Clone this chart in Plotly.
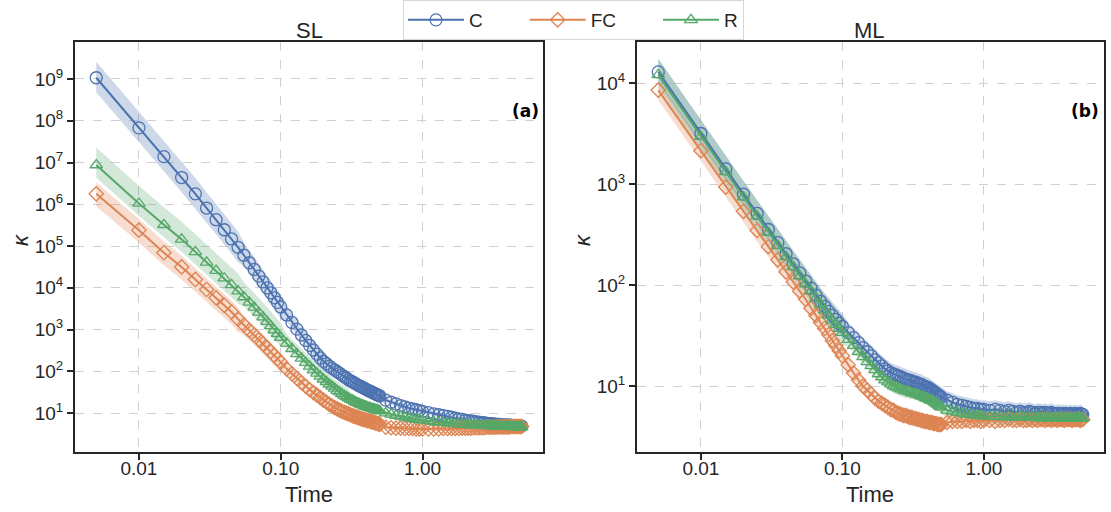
import plotly.graph_objects as go

# ---------------- data (log10 of kappa) ----------------
TIME_A = [0.005, 0.010, 0.015, 0.020, 0.025, 0.030, 0.035, 0.040, 0.045, 0.050,
          0.055, 0.060, 0.065, 0.070, 0.075, 0.080, 0.085, 0.090, 0.095, 0.100]
TIME_B = [0.11, 0.12, 0.13, 0.14, 0.15, 0.16, 0.17, 0.18, 0.19, 0.20,
          0.21, 0.22, 0.23, 0.24, 0.25, 0.26, 0.27, 0.28, 0.29, 0.30,
          0.31, 0.32, 0.33, 0.34, 0.35, 0.36, 0.37, 0.38, 0.39, 0.40,
          0.41, 0.42, 0.43, 0.44, 0.45, 0.46, 0.47, 0.48, 0.49, 0.50]
TIME_C = [0.55, 0.60, 0.65, 0.70, 0.75, 0.80, 0.85, 0.90, 0.95, 1.00,
          1.1, 1.2, 1.3, 1.4, 1.5, 1.6, 1.7, 1.8, 1.9, 2.0,
          2.1, 2.2, 2.3, 2.4, 2.5, 2.6, 2.7, 2.8, 2.9, 3.0,
          3.1, 3.2, 3.3, 3.4, 3.5, 3.6, 3.7, 3.8, 3.9, 4.0,
          4.1, 4.2, 4.3, 4.4, 4.5, 4.6, 4.7, 4.8, 4.9, 5.0]
TIME = TIME_A + TIME_B + TIME_C

# SL panel
SL_C = [9.03, 7.83, 7.14, 6.64, 6.25, 5.91, 5.63, 5.39, 5.17, 4.97,
        4.78, 4.60, 4.44, 4.28, 4.14, 4.00, 3.88, 3.76, 3.65, 3.54,
        3.35, 3.17, 3.01, 2.87, 2.74, 2.62, 2.51, 2.41, 2.32, 2.24,
        2.18, 2.12, 2.07, 2.03, 1.99, 1.95, 1.91, 1.87, 1.84, 1.80,
        1.77, 1.75, 1.72, 1.70, 1.67, 1.65, 1.63, 1.61, 1.59, 1.57,
        1.55, 1.53, 1.52, 1.50, 1.48, 1.47, 1.45, 1.44, 1.42, 1.41,
        1.31, 1.26, 1.22, 1.18, 1.15, 1.12, 1.10, 1.08, 1.06, 1.04,
        1.01, 0.98, 0.96, 0.94, 0.92, 0.90, 0.88, 0.86, 0.85, 0.83,
        0.82, 0.81, 0.80, 0.79, 0.78, 0.77, 0.77, 0.76, 0.75, 0.75,
        0.74, 0.74, 0.73, 0.73, 0.73, 0.72, 0.72, 0.72, 0.71, 0.71,
        0.71, 0.71, 0.70, 0.70, 0.70, 0.70, 0.70, 0.69, 0.69, 0.69]
SL_FC = [6.25, 5.38, 4.84, 4.50, 4.20, 3.96, 3.76, 3.58, 3.42, 3.25,
         3.11, 2.98, 2.87, 2.76, 2.66, 2.56, 2.47, 2.38, 2.30, 2.22,
         2.06, 1.94, 1.83, 1.73, 1.64, 1.56, 1.49, 1.43, 1.37, 1.31,
         1.26, 1.21, 1.17, 1.13, 1.10, 1.07, 1.04, 1.02, 1.00, 0.98,
         0.96, 0.94, 0.92, 0.91, 0.89, 0.88, 0.86, 0.85, 0.84, 0.83,
         0.82, 0.81, 0.80, 0.79, 0.78, 0.77, 0.76, 0.75, 0.74, 0.73,
         0.66, 0.65, 0.64, 0.64, 0.63, 0.63, 0.63, 0.62, 0.62, 0.62,
         0.62, 0.62, 0.62, 0.63, 0.63, 0.63, 0.63, 0.63, 0.64, 0.64,
         0.64, 0.64, 0.65, 0.65, 0.65, 0.65, 0.65, 0.66, 0.66, 0.66,
         0.66, 0.66, 0.66, 0.67, 0.67, 0.67, 0.67, 0.67, 0.67, 0.67,
         0.67, 0.68, 0.68, 0.68, 0.68, 0.68, 0.68, 0.68, 0.68, 0.68]
SL_R = [6.94, 6.02, 5.51, 5.16, 4.86, 4.61, 4.41, 4.23, 4.07, 3.92,
        3.78, 3.65, 3.53, 3.41, 3.30, 3.19, 3.09, 2.99, 2.90, 2.81,
        2.67, 2.54, 2.42, 2.31, 2.21, 2.12, 2.03, 1.95, 1.88, 1.81,
        1.75, 1.69, 1.64, 1.59, 1.54, 1.50, 1.46, 1.42, 1.39, 1.36,
        1.33, 1.31, 1.28, 1.26, 1.24, 1.22, 1.20, 1.19, 1.17, 1.16,
        1.14, 1.13, 1.12, 1.11, 1.10, 1.09, 1.08, 1.07, 1.06, 1.05,
        1.00, 0.97, 0.94, 0.92, 0.90, 0.88, 0.87, 0.85, 0.84, 0.83,
        0.81, 0.79, 0.78, 0.77, 0.76, 0.75, 0.74, 0.74, 0.73, 0.73,
        0.72, 0.72, 0.71, 0.71, 0.71, 0.70, 0.70, 0.70, 0.70, 0.69,
        0.69, 0.69, 0.69, 0.69, 0.68, 0.68, 0.68, 0.68, 0.68, 0.68,
        0.68, 0.68, 0.67, 0.67, 0.67, 0.67, 0.67, 0.67, 0.67, 0.67]

# ML panel
ML_C = [4.11, 3.50, 3.15, 2.90, 2.71, 2.55, 2.42, 2.31, 2.21, 2.12,
        2.04, 1.97, 1.90, 1.84, 1.79, 1.74, 1.70, 1.66, 1.62, 1.59,
        1.53, 1.48, 1.43, 1.38, 1.34, 1.30, 1.26, 1.23, 1.20, 1.17,
        1.15, 1.13, 1.12, 1.11, 1.10, 1.09, 1.08, 1.07, 1.06, 1.06,
        1.05, 1.04, 1.04, 1.03, 1.02, 1.02, 1.01, 1.00, 0.99, 0.99,
        0.98, 0.97, 0.96, 0.95, 0.94, 0.93, 0.92, 0.91, 0.90, 0.89,
        0.86, 0.84, 0.82, 0.81, 0.80, 0.79, 0.78, 0.78, 0.77, 0.77,
        0.76, 0.77, 0.76, 0.75, 0.76, 0.75, 0.74, 0.75, 0.74, 0.74,
        0.75, 0.74, 0.73, 0.74, 0.74, 0.73, 0.74, 0.73, 0.73, 0.74,
        0.73, 0.72, 0.73, 0.73, 0.72, 0.73, 0.72, 0.73, 0.72, 0.72,
        0.73, 0.72, 0.72, 0.73, 0.72, 0.72, 0.72, 0.73, 0.72, 0.72]
ML_FC = [3.93, 3.33, 2.97, 2.73, 2.54, 2.38, 2.25, 2.13, 2.03, 1.94,
         1.86, 1.77, 1.70, 1.63, 1.57, 1.51, 1.45, 1.40, 1.35, 1.30,
         1.21, 1.13, 1.06, 1.00, 0.96, 0.92, 0.88, 0.85, 0.83, 0.81,
         0.79, 0.77, 0.76, 0.74, 0.73, 0.72, 0.71, 0.71, 0.70, 0.69,
         0.69, 0.68, 0.68, 0.67, 0.67, 0.66, 0.66, 0.65, 0.65, 0.65,
         0.64, 0.64, 0.64, 0.63, 0.63, 0.63, 0.62, 0.62, 0.62, 0.62,
         0.64, 0.65, 0.65, 0.65, 0.66, 0.65, 0.66, 0.66, 0.65, 0.66,
         0.66, 0.65, 0.66, 0.66, 0.67, 0.66, 0.66, 0.67, 0.66, 0.66,
         0.67, 0.66, 0.67, 0.66, 0.67, 0.67, 0.66, 0.67, 0.67, 0.66,
         0.67, 0.67, 0.66, 0.67, 0.67, 0.67, 0.66, 0.67, 0.67, 0.67,
         0.67, 0.66, 0.67, 0.67, 0.67, 0.67, 0.67, 0.66, 0.67, 0.67]
ML_R = [4.08, 3.47, 3.12, 2.87, 2.68, 2.52, 2.39, 2.28, 2.18, 2.09,
        2.01, 1.94, 1.87, 1.81, 1.75, 1.70, 1.65, 1.61, 1.57, 1.53,
        1.46, 1.40, 1.34, 1.29, 1.24, 1.20, 1.16, 1.12, 1.09, 1.06,
        1.04, 1.02, 1.00, 0.99, 0.98, 0.97, 0.96, 0.95, 0.95, 0.94,
        0.93, 0.93, 0.92, 0.92, 0.91, 0.90, 0.90, 0.89, 0.88, 0.88,
        0.87, 0.86, 0.86, 0.85, 0.84, 0.83, 0.82, 0.81, 0.80, 0.79,
        0.76, 0.75, 0.74, 0.73, 0.72, 0.72, 0.71, 0.71, 0.71, 0.70,
        0.70, 0.70, 0.70, 0.69, 0.70, 0.69, 0.69, 0.70, 0.69, 0.69,
        0.69, 0.70, 0.69, 0.69, 0.68, 0.69, 0.69, 0.68, 0.69, 0.69,
        0.68, 0.69, 0.69, 0.68, 0.69, 0.68, 0.69, 0.68, 0.68, 0.69,
        0.68, 0.68, 0.69, 0.68, 0.68, 0.68, 0.69, 0.68, 0.68, 0.68]

# confidence band half-widths (log10 decades): upper / lower
SL_C_UP = [0.38] * 10 + [0.30] * 10 + [0.20] * 20 + [0.14] * 20 + [0.07] * 50
SL_C_DN = [0.35] * 10 + [0.27] * 10 + [0.15] * 20 + [0.10] * 20 + [0.06] * 50
SL_FC_UP = [0.27] * 10 + [0.22] * 10 + [0.13] * 20 + [0.08] * 20 + [0.06] * 50
SL_FC_DN = [0.30] * 10 + [0.24] * 10 + [0.13] * 20 + [0.08] * 20 + [0.06] * 50
SL_R_UP = [0.42] * 10 + [0.35] * 10 + [0.22] * 20 + [0.12] * 20 + [0.06] * 50
SL_R_DN = [0.30] * 10 + [0.22] * 10 + [0.12] * 20 + [0.08] * 20 + [0.06] * 50
ML_C_UP = [0.13] * 20 + [0.10] * 20 + [0.10] * 20 + [0.09] * 50
ML_C_DN = [0.11] * 20 + [0.07] * 20 + [0.06] * 20 + [0.07] * 50
ML_FC_UP = [0.10] * 20 + [0.07] * 20 + [0.06] * 20 + [0.07] * 50
ML_FC_DN = [0.10] * 20 + [0.08] * 20 + [0.07] * 20 + [0.06] * 50
ML_R_UP = [0.16] * 20 + [0.09] * 20 + [0.07] * 20 + [0.09] * 50
ML_R_DN = [0.12] * 20 + [0.07] * 20 + [0.06] * 20 + [0.07] * 50

SERIES = ["C", "FC", "R"]
COLORS = {"C": "#4C72B0", "FC": "#DD8452", "R": "#55A868"}
FILLS = {"C": "rgba(76,114,176,0.28)", "FC": "rgba(221,132,82,0.28)", "R": "rgba(85,168,104,0.26)"}
SYMBOLS = {"C": "circle-open", "FC": "diamond-open", "R": "triangle-up-open"}
SIZES = {"C": 12, "FC": 11, "R": 11}
PAD = "\u00a0" * 7  # spacing after legend labels
LEGEND_NAMES = {"C": "C" + PAD, "FC": "FC" + PAD, "R": "R"}

PANELS = [
    ("x", "y", {"C": (SL_C, SL_C_UP, SL_C_DN), "FC": (SL_FC, SL_FC_UP, SL_FC_DN), "R": (SL_R, SL_R_UP, SL_R_DN)}),
    ("x2", "y2", {"C": (ML_C, ML_C_UP, ML_C_DN), "FC": (ML_FC, ML_FC_UP, ML_FC_DN), "R": (ML_R, ML_R_UP, ML_R_DN)}),
]

fig = go.Figure()
for xa, ya, data in PANELS:
    for s in SERIES:
        mean, up, dn = data[s]
        hi = [10 ** (m + u) for m, u in zip(mean, up)]
        lo = [10 ** (m - d) for m, d in zip(mean, dn)]
        fig.add_trace(go.Scatter(x=TIME + TIME[::-1], y=hi + lo[::-1], fill="toself",
                                 fillcolor=FILLS[s], line=dict(width=0), mode="lines",
                                 hoverinfo="skip", showlegend=False, xaxis=xa, yaxis=ya))
for i, (xa, ya, data) in enumerate(PANELS):
    for s in SERIES:
        mean = data[s][0]
        fig.add_trace(go.Scatter(x=TIME, y=[10 ** m for m in mean], mode="lines+markers", name=LEGEND_NAMES[s],
                                 line=dict(color=COLORS[s], width=2),
                                 marker=dict(symbol=SYMBOLS[s], size=SIZES[s], color=COLORS[s],
                                             line=dict(width=1.3, color=COLORS[s])),
                                 legendgroup=s, showlegend=(i == 0), xaxis=xa, yaxis=ya))

DARK = "#262626"
FONT = "Liberation Sans, Arial, sans-serif"
TICKF = dict(size=19, color=DARK, family=FONT)
common_x = dict(type="log", range=[-2.451, 0.849], tickvals=[0.01, 0.1, 1], ticktext=["0.01", "0.10", "1.00"],
                ticks="outside", ticklen=6, tickwidth=1.5, tickcolor=DARK, showline=True, linecolor=DARK,
                linewidth=2, mirror=True, showgrid=True, gridcolor="#d0d0d0", griddash="dash", gridwidth=1,
                zeroline=False, tickfont=TICKF, ticklabelstandoff=-8)
common_y = dict(type="log", ticks="outside", ticklen=6, tickwidth=1.5, tickcolor=DARK, showline=True,
                linecolor=DARK, linewidth=2, mirror=True, showgrid=True, gridcolor="#d0d0d0",
                griddash="dash", gridwidth=1, zeroline=False, tickfont=TICKF)

fig.update_layout(
    width=1111, height=512, margin=dict(l=0, r=0, t=0, b=0),
    paper_bgcolor="white", plot_bgcolor="white",
    font=dict(family=FONT, color=DARK),
    xaxis=dict(domain=[0.0675, 0.4887], anchor="y", **common_x),
    xaxis2=dict(domain=[0.5734, 0.9937], anchor="y2", **common_x),
    yaxis=dict(domain=[0.117, 0.918], anchor="x", range=[0.066, 9.886],
               tickvals=[10 ** k for k in range(1, 10)],
               ticktext=["10<sup>%d</sup>" % k for k in range(1, 10)], **common_y),
    yaxis2=dict(domain=[0.117, 0.918], anchor="x2", range=[0.347, 4.406],
                tickvals=[10 ** k for k in range(1, 5)],
                ticktext=["10<sup>%d</sup>" % k for k in range(1, 5)], **common_y),
    legend=dict(orientation="h", x=0.5162, xanchor="center", y=1.0, yanchor="top",
                bgcolor="white", bordercolor="#d6d6d6", borderwidth=1, itemwidth=56,
                font=dict(size=19, color=DARK, family=FONT), tracegroupgap=0),
    showlegend=True,
)

ann = [
    dict(text="SL", x=309 / 1111, y=1 - 30 / 512, size=22),
    dict(text="ML", x=870 / 1111, y=1 - 30 / 512, size=22),
    dict(text="Time", x=309 / 1111, y=1 - 494 / 512, size=22),
    dict(text="Time", x=870 / 1111, y=1 - 494 / 512, size=22),
    dict(text="<i>κ</i>", x=20 / 1111, y=1 - 240 / 512, size=22, angle=-90),
    dict(text="<i>κ</i>", x=582 / 1111, y=1 - 240 / 512, size=22, angle=-90),
]
for a in ann:
    fig.add_annotation(xref="paper", yref="paper", showarrow=False, xanchor="center", yanchor="middle",
                       x=a["x"], y=a["y"], text=a["text"], textangle=a.get("angle", 0),
                       font=dict(family=FONT, color=DARK, size=a["size"]))
for txt, xr in (("(a)", 541), ("(b)", 1101)):
    fig.add_annotation(xref="paper", yref="paper", showarrow=False, xanchor="right", yanchor="middle",
                       x=xr / 1111, y=1 - 111 / 512, text="<b>%s</b>" % txt,
                       font=dict(family="DejaVu Sans", size=17, color="black"))

fig.write_html("out.html")
